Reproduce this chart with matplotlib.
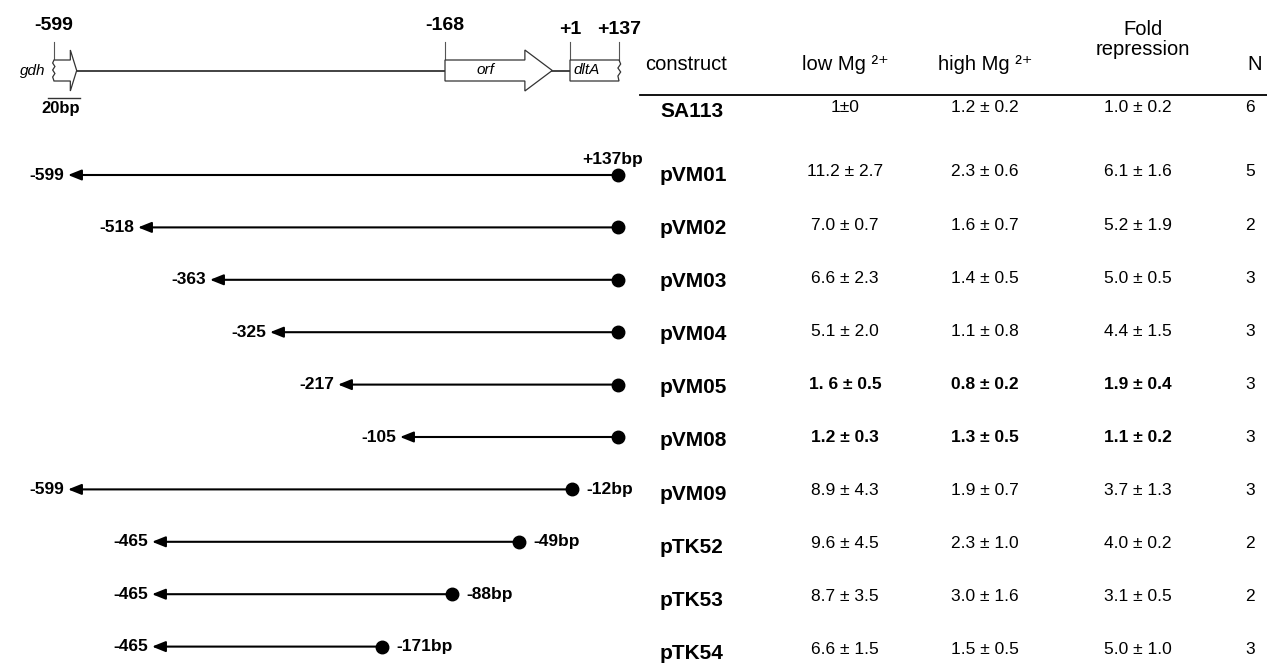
import numpy as np
import matplotlib as mpl
from matplotlib import pyplot as plt
from matplotlib.patches import Polygon

mpl.rcParams['font.family'] = ['Liberation Sans', 'DejaVu Sans']

# deletion constructs (bp relative to dltA start)
constructs = ['pVM01', 'pVM02', 'pVM03', 'pVM04', 'pVM05', 'pVM08', 'pVM09', 'pTK52', 'pTK53', 'pTK54']
startBp = [-599, -518, -363, -325, -217, -105, -599, -465, -465, -465]
endBp = [137, 137, 137, 137, 137, 137, -12, -49, -88, -171]

# table
strains = ['SA113'] + constructs
lowMg = ['1±0', '11.2 ± 2.7', '7.0 ± 0.7', '6.6 ± 2.3', '5.1 ± 2.0', '1. 6 ± 0.5', '1.2 ± 0.3',
         '8.9 ± 4.3', '9.6 ± 4.5', '8.7 ± 3.5', '6.6 ± 1.5']
highMg = ['1.2 ± 0.2', '2.3 ± 0.6', '1.6 ± 0.7', '1.4 ± 0.5', '1.1 ± 0.8', '0.8 ± 0.2', '1.3 ± 0.5',
          '1.9 ± 0.7', '2.3 ± 1.0', '3.0 ± 1.6', '1.5 ± 0.5']
foldRep = ['1.0 ± 0.2', '6.1 ± 1.6', '5.2 ± 1.9', '5.0 ± 0.5', '4.4 ± 1.5', '1.9 ± 0.4', '1.1 ± 0.2',
           '3.7 ± 1.3', '4.0 ± 0.2', '3.1 ± 0.5', '5.0 ± 1.0']
nRep = [6, 5, 2, 3, 3, 3, 3, 3, 2, 2, 3]
boldRows = ['pVM05', 'pVM08']

# gene map
mapBp = [-599, -168, 1, 137]
mapLabels = ['-599', '-168', '+1', '+137']
gdhRange = (-599, -581, -574)    # start, head start, tip
orfRange = (-168, -60, -23)
dltARange = (1, 137)

# schematic (non linear) bp axes used in the drawing
consKnotBp = [-690, -599, -518, -465, -363, -325, -217, -171, -105, -88, -49, -12, 137, 175]
consKnotPx = [0, 68, 138, 152, 210, 270, 338, 382, 400, 452, 519, 572, 618, 640]
mapKnotBp = [-660, -599, -168, 1, 137, 175]
mapKnotPx = [0, 54, 445, 570, 619, 640]

W, H = 1267, 663
fig = plt.figure(figsize=(W / 100, H / 100), dpi=100)

axT = fig.add_axes([0, 0, 1, 1])
axT.set_xlim(0, W)
axT.set_ylim(H, 0)
axT.axis('off')


def schematicAxes(kb, kp):
	ax = fig.add_axes([0, 0, 640 / W, 1])
	ax.patch.set_alpha(0)
	ax.set_xscale('function', functions=(lambda x: np.interp(x, kb, kp), lambda p: np.interp(p, kp, kb)))
	ax.set_xlim(kb[0], kb[-1])
	ax.set_ylim(H, 0)
	ax.set_autoscale_on(False)
	ax.axis('off')
	return ax


axC = schematicAxes(consKnotBp, consKnotPx)
axM = schematicAxes(mapKnotBp, mapKnotPx)

# ---- constructs
for i, name in enumerate(constructs):
	y = 175 + 52.4 * i
	s, e = startBp[i], endBp[i]
	axC.annotate('', xy=(s, y), xytext=(e, y),
	             arrowprops=dict(arrowstyle='-|>,head_length=0.8,head_width=0.32', color='black',
	                             lw=1.5, shrinkA=0, shrinkB=0, mutation_scale=10))
	axC.plot(e, y, 'o', color='black', ms=9, zorder=3)
	axC.annotate(str(s), xy=(s, y), xytext=(-3, 0), textcoords='offset points',
	             ha='right', va='center', fontsize=12.5, fontweight='bold')
	if i == 0 or e != endBp[i - 1]:
		lab = '{0:+d}bp'.format(e)
		if e > 0:
			axC.annotate(lab, xy=(e, y), xytext=(-4, 11), textcoords='offset points',
			             ha='center', va='center', fontsize=12.5, fontweight='bold')
		else:
			axC.annotate(lab, xy=(e, y), xytext=(10, 0), textcoords='offset points',
			             ha='left', va='center', fontsize=12.5, fontweight='bold')

# ---- gene map
top, bot, htop, hbot, mid = 60, 81, 50, 91, 70.5
axM.plot([gdhRange[2], dltARange[0]], [mid, mid], color='#222222', lw=1.2, zorder=1)
gdhPts = [(gdhRange[1], top), (gdhRange[1], htop), (gdhRange[2], mid), (gdhRange[1], hbot),
          (gdhRange[1], bot), (gdhRange[0], bot), (gdhRange[0] - 1.5, 77), (gdhRange[0] + 1, 73.5),
          (gdhRange[0] - 1.5, 70), (gdhRange[0] + 1, 66.5), (gdhRange[0] - 1.5, 63), (gdhRange[0], top)]
axM.add_patch(Polygon(gdhPts, closed=True, fc='white', ec='#333333', lw=0.9, zorder=2))
orfPts = [(orfRange[0], top), (orfRange[1], top), (orfRange[1], htop), (orfRange[2], mid),
          (orfRange[1], hbot), (orfRange[1], bot), (orfRange[0], bot)]
axM.add_patch(Polygon(orfPts, closed=True, fc='white', ec='#333333', lw=0.9, zorder=2))
d0, d1 = dltARange
dltPts = [(d0, top), (d1, top), (d1 + 3, 64), (d1 - 3, 68), (d1 + 3, 72), (d1 - 3, 76),
          (d1, bot), (d0, bot)]
axM.add_patch(Polygon(dltPts, closed=True, fc='white', ec='#333333', lw=0.9, zorder=2))
for bp, lab in zip(mapBp, mapLabels):
	axM.plot([bp, bp], [42, top], color='#555555', lw=0.8, zorder=1)
	axM.text(bp, 26 if bp < 0 else 30, lab, ha='center', va='center', fontsize=14, fontweight='bold')
axM.annotate('gdh', xy=(gdhRange[0], mid), xytext=(-6, 0), textcoords='offset points',
             ha='right', va='center', fontsize=11, style='italic')
axM.text((orfRange[0] + orfRange[1]) / 2, mid, 'orf', ha='center', va='center', fontsize=11, style='italic')
axM.annotate('dltA', xy=(d0, mid), xytext=(2.5, 0), textcoords='offset points',
             ha='left', va='center', fontsize=11, style='italic')

# scale bar
axT.plot([48, 80], [98, 98], color='#333333', lw=1)
axT.text(61, 109, '20bp', ha='center', va='center', fontsize=12, fontweight='bold')

# ---- table
nameX, lowX, highX, foldX, nX = 660, 845, 985, 1138, 1250
hb = 70
axT.text(645, hb, 'construct', ha='left', va='baseline', fontsize=14.5)
axT.text(lowX, hb, 'low Mg ²⁺', ha='center', va='baseline', fontsize=14.5)
axT.text(highX, hb, 'high Mg ²⁺', ha='center', va='baseline', fontsize=14.5)
axT.text(foldX + 5, 35, 'Fold', ha='center', va='baseline', fontsize=14.5)
axT.text(foldX + 5, 55, 'repression', ha='center', va='baseline', fontsize=14.5)
axT.text(nX + 5, hb, 'N', ha='center', va='baseline', fontsize=14.5)
axT.plot([640, W], [95, 95], color='black', lw=1.3)

for i, strain in enumerate(strains):
	y = 111 if i == 0 else 175 + 53.1 * (i - 1)
	w = 'bold' if strain in boldRows else 'normal'
	axT.text(nameX, y + 0.5, strain, ha='left', va='center', fontsize=15, fontweight='bold')
	axT.text(lowX, y - 3, lowMg[i], ha='center', va='center', fontsize=12.5, fontweight=w)
	axT.text(highX, y - 3, highMg[i], ha='center', va='center', fontsize=12.5, fontweight=w)
	axT.text(foldX, y - 3, foldRep[i], ha='center', va='center', fontsize=12.5, fontweight=w)
	axT.text(nX, y - 3, str(nRep[i]), ha='center', va='center', fontsize=12.5)

fig.savefig('out.png', dpi=100)
